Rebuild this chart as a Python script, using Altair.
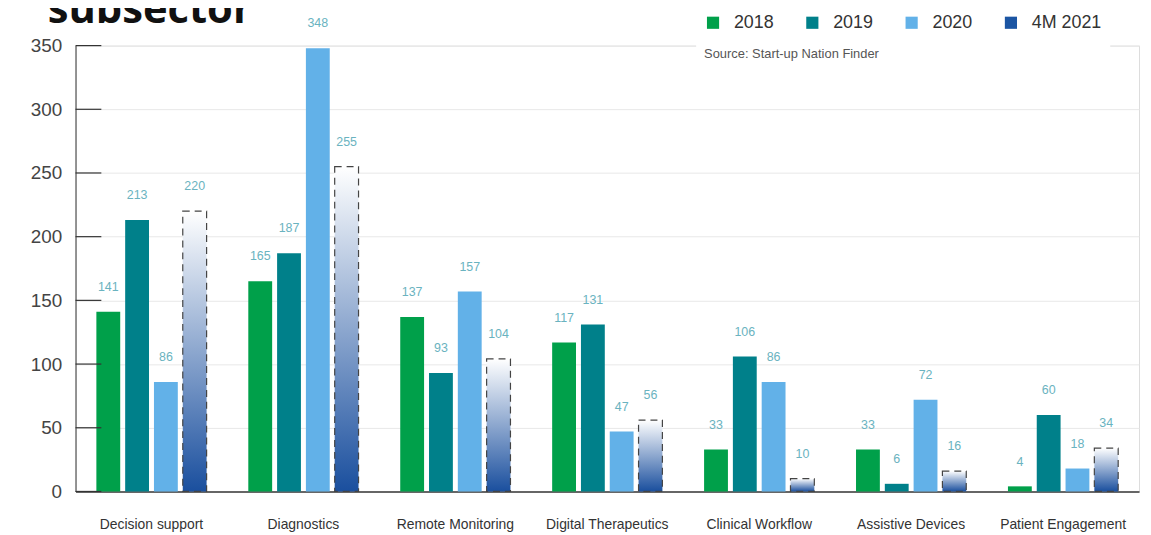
import altair as alt
import pandas as pd

categories = ["Decision support", "Diagnostics", "Remote Monitoring", "Digital Therapeutics",
              "Clinical Workflow", "Assistive Devices", "Patient Engagement"]
series = ["2018", "2019", "2020", "4M 2021"]
v2018 = [141, 165, 137, 117, 33, 33, 4]
v2019 = [213, 187, 93, 131, 106, 6, 60]
v2020 = [86, 348, 157, 47, 86, 72, 18]
v2021 = [220, 255, 104, 56, 10, 16, 34]
colors = ["#00a04a", "#00808a", "#62b1e8", "#1b55a3"]
y_ticks = [0, 50, 100, 150, 200, 250, 300, 350]
title_text = "subsector"
source_text = "Source: Start-up Nation Finder"

rows = []
for s, vals in zip(series, [v2018, v2019, v2020, v2021]):
    for c, v in zip(categories, vals):
        rows.append({"cat": c, "series": s, "value": v})
df = pd.DataFrame(rows)
ticks_df = pd.DataFrame({"t": y_ticks})
title_df = pd.DataFrame({"t": [title_text]})

x_enc = alt.X("cat:N", sort=categories,
              scale=alt.Scale(paddingInner=0, paddingOuter=0),
              axis=alt.Axis(title=None, labelFontSize=14, labelColor="#333333",
                            labelFont="Liberation Sans", ticks=False, labelPadding=26,
                            domainColor="#666666", domainWidth=2, grid=False,
                            labelAngle=0))
xoff = alt.XOffset("series:N", sort=series,
                   scale=alt.Scale(domain=series, paddingInner=0.172, paddingOuter=0.724))
y_scale = alt.Scale(domain=[0, 350], nice=False)
y_enc = alt.Y("value:Q", scale=y_scale,
              axis=alt.Axis(title=None, values=y_ticks, labelFontSize=19,
                            labelColor="#444444", labelFont="Liberation Sans",
                            ticks=False, labelPadding=14, domainColor="#555555",
                            domainWidth=1.2, gridColor="#e8e8e8", gridWidth=1))

base = alt.Chart(df)

bars = base.transform_filter(alt.datum.series != "4M 2021").mark_bar().encode(
    x=x_enc, xOffset=xoff, y=y_enc,
    color=alt.Color("series:N", sort=series,
                    scale=alt.Scale(domain=series, range=colors),
                    legend=alt.Legend(
                        title=source_text, titleOrient="bottom", titleFontSize=13,
                        titleFontWeight="normal", titleColor="#555555",
                        titleFont="Liberation Sans", titleAnchor="start", titlePadding=16,
                        orient="none", legendX=625, legendY=-40, direction="horizontal",
                        symbolType="square", symbolSize=150, symbolStrokeWidth=0,
                        labelFontSize=18, labelColor="#333333", labelFont="Liberation Sans",
                        labelOffset=12, columnPadding=29, fillColor="white", padding=8,
                        offset=0)),
)

grad = alt.Gradient(gradient="linear",
                    stops=[alt.GradientStop(color="#1a4f9e", offset=0),
                           alt.GradientStop(color="#ffffff", offset=1)],
                    x1=0, x2=0, y1=1, y2=0)

bars21 = base.transform_filter(alt.datum.series == "4M 2021").mark_bar(
    fill=grad, stroke="#444444", strokeWidth=1.2, strokeDash=[7, 5]
).encode(x=x_enc, xOffset=xoff, y=alt.Y("value:Q", scale=y_scale))

labels = base.mark_text(dy=-25, fontSize=12.5, color="#6ab3c0", font="Liberation Sans",
                        baseline="middle").encode(
    x=alt.X("cat:N", sort=categories), xOffset=xoff,
    y=alt.Y("value:Q", scale=y_scale), text="value:Q")

inner_ticks = alt.Chart(ticks_df).mark_rule(color="#333333", strokeWidth=1.2).encode(
    y=alt.Y("t:Q", scale=y_scale), x=alt.value(0), x2=alt.value(26))

title = alt.Chart(title_df).mark_text(fontSize=42, fontWeight="bold", font="Open Sans",
                                      align="left", baseline="alphabetic",
                                      color="#111111").encode(
    text="t:N", x=alt.value(-28), y=alt.value(-23))

chart = alt.layer(bars, bars21, labels, inner_ticks, title).properties(
    width=1071, height=449,
    autosize=alt.AutoSizeParams(type="none"),
    padding={"left": 68, "top": 36, "right": 4, "bottom": 42},
).configure_view(stroke=None).configure(background="white")

chart.save("out.html", embed_options={"renderer": "svg", "actions": False})
